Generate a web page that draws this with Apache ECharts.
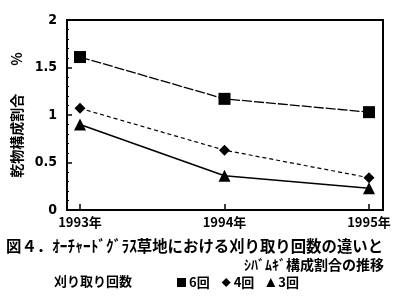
<!DOCTYPE html>
<html><head><meta charset="utf-8">
<script src="https://cdn.jsdelivr.net/npm/echarts@6/dist/echarts.min.js"></script>
<style>html,body{margin:0;padding:0;background:#fff}#c{width:409px;height:302px}</style>
</head><body><div id="c"></div>
<script>
const years = [1993, 1994, 1995];
const seriesNames = ['6回', '4回', '3回'];
const cut6 = [1.61, 1.17, 1.03];
const cut4 = [1.07, 0.63, 0.34];
const cut3 = [0.90, 0.36, 0.23];
const yTicks = [0, 0.5, 1, 1.5, 2];
const titleLine1 = '図４．ｵｰﾁｬｰﾄﾞｸﾞﾗｽ草地における刈り取り回数の違いと';
const titleLine2 = 'ｼﾊﾞﾑｷﾞ構成割合の推移';
const legendLabel = '刈り取り回数';
const yName = '乾物構成割合　　%';

const FONT = '"Noto Sans CJK JP", sans-serif';
const pair = (arr) => years.map((y, i) => [y, arr[i]]);
const chart = echarts.init(document.getElementById('c'), null, {renderer: 'canvas'});
chart.setOption({
  animation: false,
  backgroundColor: '#fff',
  title: [
    {text: titleLine1, left: 1, top: 233, textStyle: {fontFamily: FONT, fontWeight: 'bold', fontSize: 15.4, color: '#000'}},
    {text: titleLine2, right: 20, top: 253, textStyle: {fontFamily: FONT, fontWeight: 'bold', fontSize: 14, color: '#000'}}
  ],
  graphic: [
    {type: 'text', left: 54, top: 275, style: {text: legendLabel, font: 'bold 13px ' + FONT, fill: '#000'}}
  ],
  legend: {
    left: 172, top: 271, itemWidth: 9, itemHeight: 9, itemGap: 12,
    data: [
      {name: seriesNames[0], icon: 'rect'},
      {name: seriesNames[1], icon: 'diamond'},
      {name: seriesNames[2], icon: 'triangle'}
    ],
    textStyle: {fontFamily: FONT, fontWeight: 'bold', fontSize: 13, color: '#000', padding: [0, 0, 0, -2]}
  },
  grid: {left: 67, right: 26, top: 20, bottom: 92, show: true, borderColor: '#000', borderWidth: 2, backgroundColor: 'transparent'},
  xAxis: {
    type: 'value', min: 1992.91, max: 1995.097,
    axisLine: {lineStyle: {color: '#000', width: 2}},
    axisTick: {inside: true, length: 6, customValues: years, lineStyle: {color: '#000', width: 1.5}},
    axisLabel: {customValues: years, formatter: v => v + '年', margin: 6, fontFamily: FONT, fontWeight: 'bold', fontSize: 13, color: '#000'},
    splitLine: {show: false}
  },
  yAxis: {
    type: 'value', min: 0, max: 2, interval: 0.5,
    name: yName, nameLocation: 'middle', nameRotate: 90, nameGap: 37,
    nameTextStyle: {fontFamily: FONT, fontWeight: 'bold', fontSize: 14, color: '#000'},
    axisLine: {lineStyle: {color: '#000', width: 2}},
    axisTick: {inside: true, length: 5, lineStyle: {color: '#000', width: 1.5}},
    minorTick: {show: true, splitNumber: 5, length: 2, lineStyle: {color: '#000', width: 1}},
    axisLabel: {margin: 10, fontFamily: '"DejaVu Sans Condensed", sans-serif', fontWeight: 'bold', fontSize: 14, color: '#000',
      formatter: v => String(v)},
    splitLine: {show: false}
  },
  series: [
    {name: seriesNames[0], type: 'line', data: pair(cut6), symbol: 'rect', symbolSize: 12,
      itemStyle: {color: '#000'}, lineStyle: {color: '#000', width: 1.3, type: [10, 2]}},
    {name: seriesNames[1], type: 'line', data: pair(cut4), symbol: 'diamond', symbolSize: 11,
      itemStyle: {color: '#000'}, lineStyle: {color: '#000', width: 1.2, type: [4, 3]}},
    {name: seriesNames[2], type: 'line', data: pair(cut3), symbol: 'triangle', symbolSize: 12,
      itemStyle: {color: '#000'}, lineStyle: {color: '#000', width: 1.5}}
  ]
});
</script></body></html>
